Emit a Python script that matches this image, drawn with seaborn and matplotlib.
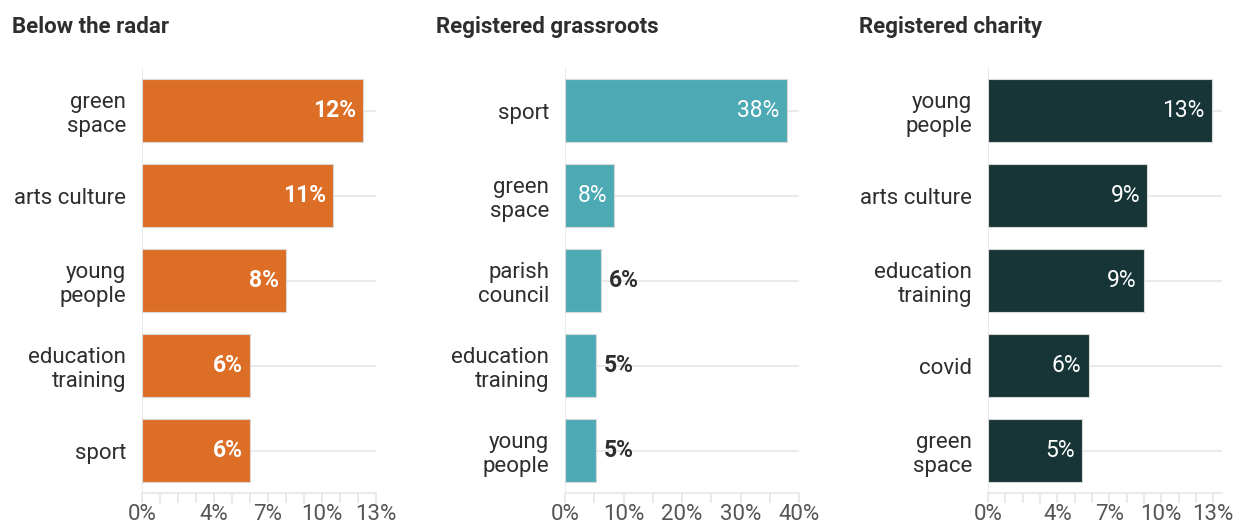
import matplotlib
matplotlib.use("Agg")
import matplotlib.pyplot as plt
import seaborn as sns
import pandas as pd

sns.set_theme(style="white")
plt.rcParams['font.family'] = ['Roboto', 'DejaVu Sans']

# ---- data ----
titles = ["Below the radar", "Registered grassroots", "Registered charity"]

cats_radar = ["green\nspace", "arts culture", "young\npeople", "education\ntraining", "sport"]
vals_radar = [12.3, 10.6, 8.0, 6.0, 6.0]

cats_grass = ["sport", "green\nspace", "parish\ncouncil", "education\ntraining", "young\npeople"]
vals_grass = [37.9, 8.4, 6.2, 5.3, 5.3]

cats_charity = ["young\npeople", "arts culture", "education\ntraining", "covid", "green\nspace"]
vals_charity = [12.9, 9.2, 9.0, 5.8, 5.4]

xticks_radar = [0, 4, 7, 10, 13]
xticks_grass = [0, 10, 20, 30, 40]
xticks_charity = [0, 4, 7, 10, 13]

colors = ["#DD6E25", "#4DAAB5", "#173436"]
inside_weight = ["bold", "normal", "normal"]

panels = [
    (cats_radar, vals_radar, xticks_radar, 13, 1, 13.0),
    (cats_grass, vals_grass, xticks_grass, 40, 5, 40.0),
    (cats_charity, vals_charity, xticks_charity, 13, 1, 13.5),
]

W, H = 1243, 524
PT = 72 / 100  # points per pixel
fig = plt.figure(figsize=(W / 100, H / 100), dpi=100)

ax_left_px = [142, 565, 988]
ax_width_px = [234, 234, 234]
top_px, bot_px = 68, 493
title_x_px = [12, 436, 859]

grid_c = "#E6E6E6"
text_c = "#2E2E2E"
tick_c = "#555555"

for i, (cats, vals, labticks, xmax, minor_step, xlim_max) in enumerate(panels):
    ax = fig.add_axes([ax_left_px[i] / W, (H - bot_px) / H,
                       ax_width_px[i] / W, (bot_px - top_px) / H])
    df = pd.DataFrame({"cat": cats, "val": vals})
    sns.barplot(data=df, y="cat", x="val", orient="h", ax=ax, color=colors[i],
                saturation=1, width=0.74, edgecolor="#D8D8D8", linewidth=0.8,
                zorder=3)
    ax.set_xlim(0, xlim_max)
    ax.set_ylim(len(cats) - 0.5, -0.5)
    ax.set_xlabel("")
    ax.set_ylabel("")
    for s in ["top", "right", "left"]:
        ax.spines[s].set_visible(False)
    ax.spines["bottom"].set_color(grid_c)
    ax.spines["bottom"].set_linewidth(1.2)
    ax.axvline(0, color=grid_c, lw=1.2, zorder=1)
    ax.grid(axis="y", color=grid_c, lw=1.2, zorder=0)
    ax.set_axisbelow(True)
    ax.tick_params(axis="y", length=11 * PT, color=grid_c, width=1.2,
                   pad=5 * PT, labelsize=16, labelcolor=text_c)
    for t in ax.get_yticklabels():
        t.set_linespacing(1.2)
    minor = list(range(0, xmax + 1, minor_step))
    ax.set_xticks(minor, minor=True)
    ax.set_xticks(labticks)
    ax.set_xticklabels([f"{t}%" for t in labticks])
    ax.tick_params(axis="x", which="both", length=10 * PT, color=grid_c,
                   width=1.2, labelsize=16, labelcolor=tick_c, pad=0.5,
                   bottom=True)
    ax.tick_params(axis="x", which="minor", labelbottom=False)
    px = xlim_max / ax_width_px[i]
    for j, v in enumerate(vals):
        lab = f"{round(v):.0f}%"
        if v / xlim_max > 0.18:
            ax.text(v - 7 * px, j, lab, ha="right", va="center",
                    color="white", fontsize=16.5, fontweight=inside_weight[i],
                    zorder=5)
        else:
            ax.text(v + 8 * px, j, lab, ha="left", va="center",
                    color=text_c, fontsize=16.5, fontweight="bold", zorder=5)
    fig.text(title_x_px[i] / W, 1 - 27 / H, titles[i], ha="left", va="center",
             fontsize=16, fontweight="bold", color=text_c)

fig.savefig("out.png", dpi=100, facecolor="white")
